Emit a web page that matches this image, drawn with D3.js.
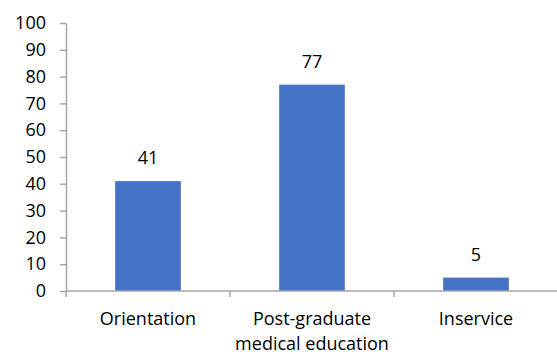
<!DOCTYPE html>
<html>
<head>
<meta charset="utf-8">
<script src="https://cdn.jsdelivr.net/npm/d3@7/dist/d3.min.js"></script>
<style>
  html, body { margin: 0; padding: 0; background: #fff; }
  svg { display: block; }
  text { font-family: "Open Sans", "Noto Sans", sans-serif; fill: #000; }
</style>
</head>
<body>
<svg id="chart" width="557" height="354"></svg>
<script>
const categories = ["Orientation", "Post-graduate\nmedical education", "Inservice"];
const values = [41, 77, 5];
const yTicks = [0, 10, 20, 30, 40, 50, 60, 70, 80, 90, 100];

const svg = d3.select("#chart");
const margin = { left: 66, right: 0, top: 23, bottom: 63 };
const fontSize = "18px";

const x = d3.scaleBand()
  .domain(categories)
  .range([margin.left, 558])
  .paddingInner(0.6)
  .paddingOuter(0.3);

const y = d3.scaleLinear()
  .domain([0, 100])
  .range([291, 23]);

const axisColor = "#a6a6a6";

// y axis
const yAxis = svg.append("g")
  .attr("transform", `translate(${margin.left},0)`)
  .call(d3.axisLeft(y).tickValues(yTicks).tickSize(6).tickPadding(14).tickSizeOuter(0));
yAxis.select(".domain").attr("stroke", axisColor).attr("stroke-width", 1.5);
yAxis.selectAll(".tick line").attr("stroke", axisColor).attr("stroke-width", 1.5);
yAxis.selectAll(".tick text").style("font-size", fontSize).style("font-family", "'Open Sans', sans-serif").attr("fill", "#000");

// bars
svg.append("g").selectAll("rect")
  .data(values)
  .join("rect")
  .attr("x", (d, i) => x(categories[i]))
  .attr("width", x.bandwidth())
  .attr("y", d => y(d))
  .attr("height", d => y(0) - y(d))
  .attr("fill", "#4472c4");

// x axis with ticks at category boundaries
const boundaries = d3.scaleLinear().domain([0, categories.length]).range([margin.left, 558]);
const xg = svg.append("g");
xg.append("line")
  .attr("x1", margin.left).attr("x2", 558)
  .attr("y1", y(0)).attr("y2", y(0))
  .attr("stroke", axisColor).attr("stroke-width", 1.5);
xg.selectAll("line.tick")
  .data(d3.range(categories.length + 1))
  .join("line")
  .attr("class", "tick")
  .attr("x1", d => boundaries(d)).attr("x2", d => boundaries(d))
  .attr("y1", y(0)).attr("y2", y(0) + 6)
  .attr("stroke", axisColor).attr("stroke-width", 1.5);

// category labels
const catLabels = svg.append("g").selectAll("text")
  .data(categories)
  .join("text")
  .attr("text-anchor", "middle")
  .style("font-size", fontSize)
  .attr("transform", d => `translate(${x(d) + x.bandwidth() / 2},0)`);
catLabels.each(function(d) {
  const lines = d.split("\n");
  d3.select(this).selectAll("tspan")
    .data(lines)
    .join("tspan")
    .attr("x", 0)
    .attr("y", (l, i) => 325 + i * 25)
    .text(l => l);
});

// value labels
svg.append("g").selectAll("text")
  .data(values)
  .join("text")
  .attr("text-anchor", "middle")
  .style("font-size", fontSize)
  .attr("x", (d, i) => x(categories[i]) + x.bandwidth() / 2)
  .attr("y", d => y(d) - 17)
  .text(d => d);
</script>
</body>
</html>
